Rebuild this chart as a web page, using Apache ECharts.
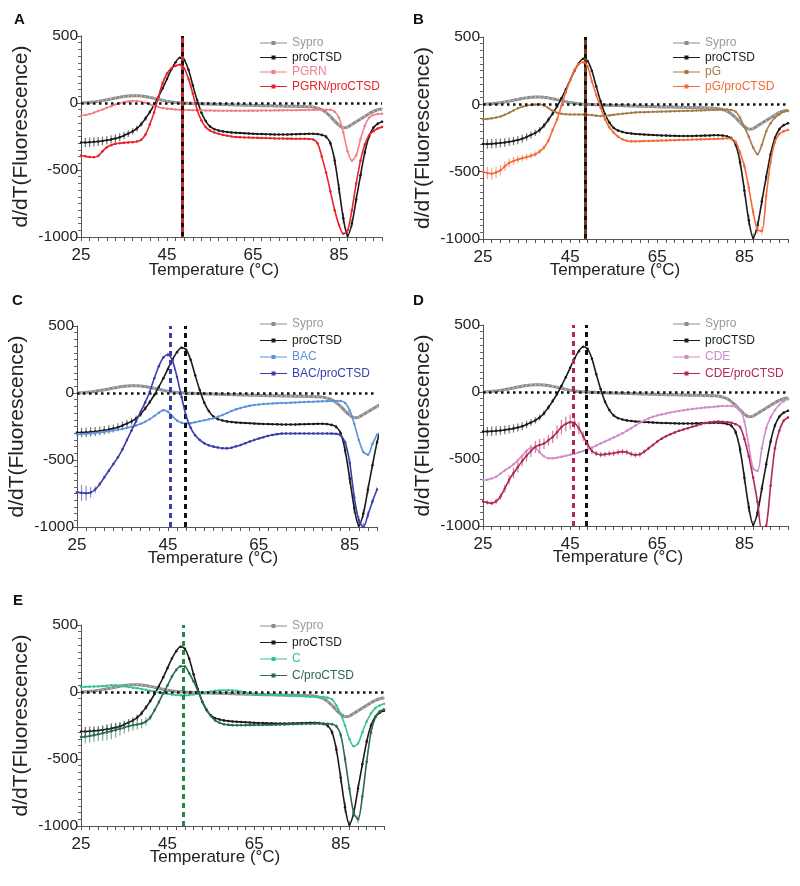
<!DOCTYPE html>
<html>
<head>
<meta charset="utf-8">
<script src="https://cdn.jsdelivr.net/npm/echarts@6/dist/echarts.min.js"></script>
<style>
html,body{margin:0;padding:0;background:#fff;}
#chart{width:800px;height:886px;}
</style>
</head>
<body>
<div id="chart"></div>
<script>
// ---------- DATA ----------
const temps = [25,26,27,28,29,30,31,32,33,34,35,36,37,38,39,40,41,42,43,44,45,46,47,48,49,50,51,52,53,54,55,56,57,58,59,60,61,62,63,64,65,66,67,68,69,70,71,72,73,74,75,76,77,78,79,80,81,82,83,84,85,86,87,88,89,90,91,92,93,94,95];

const tickLabels95 = ['25','27','29','31','33','35','37','39','41','43','45','47','49','51','53','55','57','59','61','63','65','67','69','71','73','75','77','79','81','83','85','87','89','91','93','95'];
const tickLabels91 = ['25','27','29','31','33','35','37','39','41','43','45','47','49','51','53','55','57','59','61','63','65','67','69','71','73','75','77','79','81','83','85','87','89','91'];

const SYPRO = [0,2,5,8,12,18,24,30,37,43, 48,52,55,55,53,48,42,35,27,20, 13,8,4,1,0,-2,-3,-4,-6,-7, -8,-9,-10,-11,-12,-13,-14,-15,-16,-17, -18,-19,-20,-20,-21,-22,-22,-23,-24,-24, -25,-26,-27,-28,-30,-38,-50,-72,-100,-135, -165,-185,-180,-160,-140,-120,-100,-80,-62,-50, -45];
const PROCTSD = [-295,-295,-293,-290,-287,-283,-278,-272,-265,-255, -242,-228,-212,-190,-158,-115,-68,-15,45,110, 180,250,305,338,322,248,132,22,-72,-135, -175,-195,-205,-212,-216,-220,-222,-224,-226,-228, -230,-231,-232,-233,-234,-235,-235,-235,-235,-234, -233,-232,-231,-230,-230,-232,-238,-252,-300,-430, -640,-860,-990,-900,-720,-540,-370,-250,-185,-155, -140];
const PGRN = [-95,-90,-82,-72,-60,-48,-36,-24,-12,-2, 6,12,15,15,10,2,-10,-20,-30,-38, -42,-45,-48,-50,-52,-53,-54,-55,-55,-56, -56,-57,-57,-58,-58,-58,-58,-58,-58,-57, -57,-57,-56,-56,-56,-55,-55,-55,-54,-54, -54,-53,-53,-52,-52,-51,-50,-50,-50,-65, -110,-220,-360,-430,-390,-270,-170,-110,-90,-82, -80];
const PGRN_CTSD = [-392,-398,-403,-405,-395,-360,-330,-315,-305,-300, -297,-294,-292,-288,-275,-235,-160,-70,45,150, 220,258,278,285,258,180,70,-50,-130,-180, -205,-220,-230,-238,-245,-250,-253,-255,-257,-258, -259,-260,-261,-262,-263,-264,-265,-265,-266,-266, -267,-267,-267,-268,-272,-300,-400,-520,-660,-800, -910,-975,-950,-800,-600,-430,-310,-240,-210,-190, -180];
const PG = [-110,-108,-104,-98,-90,-78,-62,-45,-30,-18, -10,-5,-2,0,-8,-28,-48,-62,-70,-74, -75,-75,-75,-75,-77,-80,-84,-87,-86,-82, -78,-74,-70,-66,-63,-60,-59,-58,-57,-56, -55,-54,-53,-52,-51,-50,-49,-48,-47,-46, -45,-44,-43,-42,-41,-40,-38,-42,-55,-100, -170,-240,-320,-370,-300,-200,-140,-100,-75,-55, -50];
const PG_CTSD = [-500,-510,-515,-505,-490,-460,-435,-420,-410,-400, -392,-382,-370,-350,-320,-270,-190,-110,-10,90, 180,255,300,312,280,170,70,-25,-110,-170, -210,-240,-260,-270,-275,-275,-274,-273,-272,-271, -270,-269,-268,-267,-266,-265,-264,-263,-262,-261, -260,-259,-258,-257,-256,-255,-252,-255,-280,-360, -460,-620,-800,-930,-940,-680,-430,-280,-220,-200, -190];
const BAC = [-310,-308,-305,-302,-298,-294,-290,-285,-280,-274, -268,-260,-252,-242,-230,-215,-195,-172,-148,-128, -140,-175,-205,-222,-228,-225,-218,-210,-203,-196, -188,-178,-165,-150,-135,-122,-112,-103,-96,-90, -86,-83,-80,-78,-76,-75,-74,-72,-71,-69, -68,-66,-65,-63,-62,-61,-60,-59,-60,-75, -130,-230,-350,-440,-460,-380,-310,null,null,null, null];
const BAC_CTSD = [-740,-745,-748,-742,-720,-680,-630,-580,-530,-480, -420,-350,-280,-210,-140,-70,10,110,200,265, 285,240,120,-30,-170,-260,-315,-350,-375,-390, -400,-407,-412,-413,-408,-398,-388,-375,-362,-350, -340,-330,-320,-313,-307,-303,-302,-302,-302,-302, -302,-302,-302,-302,-302,-302,-303,-305,-315,-370, -520,-780,-950,-1000,-910,-810,-720,null,null,null, null];
const CDE = [-657,-655,-645,-632,-610,-585,-565,-540,-510,-475, -440,-415,-420,-450,-480,-495,-495,-490,-484,-476, -468,-460,-450,-440,-428,-415,-400,-385,-370,-355, -340,-325,-308,-290,-270,-250,-230,-212,-198,-185, -175,-167,-160,-153,-147,-141,-136,-131,-127,-123, -119,-116,-113,-110,-107,-105,-104,-105,-110,-130, -220,-400,-570,-590,-420,-270,-190,-135,-95,-70, -55];
const CDE_CTSD = [-818,-825,-830,-815,-781,-720,-655,-605,-560,-515, -475,-440,-410,-395,-385,-360,-335,-300,-262,-238, -225,-230,-270,-330,-390,-440,-460,-468,-465,-460, -457,-450,-445,-450,-462,-470,-465,-445,-420,-395, -370,-348,-330,-315,-302,-290,-280,-270,-260,-250, -240,-232,-226,-222,-221,-222,-225,-230,-240,-262, -350,-480,-640,-820,-1030,-1000,-700,-420,-290,-215, -190];
const C = [38,39,40,41,42,44,47,50,50,47, 42,37,32,28,23,17,10,4,-3,-9, -14,-18,-22,-25,-25,-23,-19,-14,-8,-2, 4,9,12,13,13,12,9,4,-2,-8, -13,-16,-19,-21,-22,-23,-24,-25,-26,-28, -30,-32,-33,-35,-36,-37,-38,-42,-55,-100, -165,-250,-350,-405,-385,-300,-220,-160,-120,-100, -87];
const C_CTSD = [-336,-333,-328,-322,-315,-308,-300,-292,-284,-275, -265,-255,-248,-242,-236,-220,-190,-135,-75,-10, 50,115,165,192,190,140,80,10,-70,-130, -180,-212,-230,-240,-245,-248,-248,-248,-248,-247, -247,-246,-246,-245,-245,-244,-243,-242,-241,-240, -239,-238,-237,-237,-236,-236,-236,-237,-240,-255, -320,-500,-720,-900,-950,-780,-520,-300,-190,-145, -130];

// error (± SD)
const PROCTSD_ERR = [35,35,35,35,34,33,32,31,30,30, 28,26,24,22,20,18,15,12,10,10, 8,8,8,8,8,8,8,8,8,8, 6,6,6,6,6,6,6,6,6,6, 6,6,6,6,6,6,6,6,6,6, 6,6,6,6,6,8,10,15,20,30, 40,40,30,30,30,25,20,15,12,10, 10];
const PG_CTSD_ERR = [45,45,45,42,40,35,32,30,28,26, 24,22,20,18,15,12,10,10,10,10, 10,10,10,10,10,8,8,8,8,8, 6,6,6,6,6,6,6,6,6,6, 6,6,6,6,6,6,6,6,6,6, 6,6,6,6,6,6,8,10,15,20, 25,30,30,30,30,25,20,15,10,10, 10];
const BAC_CTSD_ERR = [60,60,55,40,25,15,12,10,10,10, 10,10,10,10,10,10,10,10,10,10, 15,12,10,10,10,10,8,8,8,8, 8,8,8,8,8,8,8,8,8,8, 6,6,6,6,6,6,6,6,6,6, 6,6,6,6,6,6,6,6,10,15, 25,30,30,30,25,20,20,0,0,0, 0];
const CDE_CTSD_ERR = [15,15,15,20,25,30,35,40,40,40, 45,45,45,45,40,40,45,50,55,55, 55,50,45,35,30,25,20,20,20,20, 20,20,20,20,20,20,18,15,12,10, 8,8,8,8,8,8,8,8,8,8, 6,6,6,6,6,6,6,6,6,6, 10,10,10,10,10,10,10,10,10,10, 10];
const C_CTSD_ERR = [50,50,50,50,50,55,60,60,55,50, 45,42,40,38,35,30,20,15,12,10, 10,10,10,10,10,10,10,10,10,10, 8,8,8,8,8,8,8,8,8,8, 6,6,6,6,6,6,6,6,6,6, 6,6,6,6,6,6,6,8,10,15, 20,25,30,30,30,25,20,15,10,10, 10];

// Tm lines (°C)
const TM_A = [48.5, 48.5];
const TM_B = [48.5, 48.5];
const TM_C = [45.5, 48.8];
const TM_D = [45.8, 48.6];
const TM_E = [48.6];

// ---------- STYLE / LAYOUT ----------
const FONT = 'Liberation Sans, Arial, Helvetica, sans-serif';
const COL = {
  sypro:'#8c8c8c', ctsd:'#1a1a1a',
  pgrn:'#f27f89', pgrnC:'#e8232b',
  pg:'#a77a45', pgC:'#f26b3a',
  bac:'#5e91dc', bacC:'#3a3ea8',
  cde:'#d28cc9', cdeC:'#b0285a',
  c:'#36c48b', cC:'#2b6b4b'
};
const LEG_ICON = 'path://M0,1.5L27,1.5L27,2.5L0,2.5Z M11.5,0L15.5,0L15.5,4L11.5,4Z';

const panels = [
  {letter:'A', lx:14, ly:12, grid:{left:81,top:36,width:301,height:201}, xmax:95, ticks:tickLabels95,
   xt:[214,270], legend:{left:260,top:37,gap:2.5},
   series:[['Sypro',SYPRO,COL.sypro],['proCTSD',PROCTSD,COL.ctsd,PROCTSD_ERR],['PGRN',PGRN,COL.pgrn],['PGRN/proCTSD',PGRN_CTSD,COL.pgrnC]],
   vlines:[[TM_A[0],'#111',0],[TM_A[1],'#c8282e',4]]},
  {letter:'B', lx:413, ly:12, grid:{left:483,top:37,width:305,height:202}, xmax:95, ticks:tickLabels95,
   xt:[615,270], legend:{left:673,top:37,gap:2.5},
   series:[['Sypro',SYPRO,COL.sypro],['proCTSD',PROCTSD,COL.ctsd,PROCTSD_ERR],['pG',PG,COL.pg],['pG/proCTSD',PG_CTSD,COL.pgC,PG_CTSD_ERR]],
   vlines:[[TM_B[0],'#111',0],[TM_B[1],'#7a3b1c',4]]},
  {letter:'C', lx:12, ly:293, grid:{left:77,top:326,width:300,height:201}, xmax:91, ticks:tickLabels91,
   xt:[213,558], legend:{left:260,top:318,gap:4.5},
   series:[['Sypro',SYPRO,COL.sypro],['proCTSD',PROCTSD,COL.ctsd,PROCTSD_ERR],['BAC',BAC,COL.bac],['BAC/proCTSD',BAC_CTSD,COL.bacC,BAC_CTSD_ERR]],
   vlines:[[TM_C[0],COL.bacC,0],[TM_C[1],'#111',0]]},
  {letter:'D', lx:413, ly:293, grid:{left:483,top:325,width:305,height:201}, xmax:95, ticks:tickLabels95,
   xt:[618,557], legend:{left:673,top:318,gap:4.5},
   series:[['Sypro',SYPRO,COL.sypro],['proCTSD',PROCTSD,COL.ctsd,PROCTSD_ERR],['CDE',CDE,COL.cde],['CDE/proCTSD',CDE_CTSD,COL.cdeC,CDE_CTSD_ERR]],
   vlines:[[TM_D[0],COL.cdeC,0],[TM_D[1],'#111',0]]},
  {letter:'E', lx:13, ly:593, grid:{left:81,top:625,width:303,height:201}, xmax:95, ticks:tickLabels95,
   xt:[215,857], legend:{left:260,top:620,gap:4.5},
   series:[['Sypro',SYPRO,COL.sypro],['proCTSD',PROCTSD,COL.ctsd,PROCTSD_ERR],['C',C,COL.c],['C/proCTSD',C_CTSD,COL.cC,C_CTSD_ERR]],
   vlines:[[TM_E[0],'#23884f',0]]}
];

const option = {animation:false, textStyle:{fontFamily:FONT}, grid:[], xAxis:[], yAxis:[], series:[], legend:[], graphic:[]};

panels.forEach((p, i) => {
  option.grid.push(Object.assign({containLabel:false}, p.grid));
  const vx = option.xAxis.length;
  option.xAxis.push({type:'value', gridIndex:i, min:25, max:p.xmax, show:false});
  option.xAxis.push({type:'category', gridIndex:i, data:p.ticks, boundaryGap:false, position:'bottom',
    axisLine:{show:true, lineStyle:{color:'#555', width:1}},
    axisTick:{show:true, interval:0, length:4, lineStyle:{color:'#555'}},
    axisLabel:{interval:9, fontSize:17, color:'#222', margin:10, fontFamily:FONT},
    splitLine:{show:false}});
  option.yAxis.push({type:'value', gridIndex:i, min:-1000, max:500, interval:500,
    name:'d/dT(Fluorescence)', nameLocation:'middle', nameRotate:90, nameGap:49,
    nameTextStyle:{fontSize:21, color:'#222', fontFamily:FONT},
    axisLine:{show:true, lineStyle:{color:'#555', width:1}},
    axisTick:{show:true, length:5, lineStyle:{color:'#555'}},
    minorTick:{show:true, splitNumber:10, length:3, lineStyle:{color:'#666'}},
    axisLabel:{fontSize:15.5, color:'#222', margin:3, fontFamily:FONT, formatter: v => String(v)},
    splitLine:{show:false}});

  p.series.forEach((s, k) => {
    const isSy = s[0] === 'Sypro';
    if (s[3]) {
      const err = s[3];
      option.series.push({
        type:'custom', xAxisIndex:vx, yAxisIndex:i, silent:true, z:1 + k,
        data: temps.map((t, j) => [t, s[1][j], err[j]]).filter(d => d[1] !== null && d[2] > 0),
        renderItem: (params, api) => {
          const t = api.value(0), v = api.value(1), e = api.value(2);
          const a = api.coord([t, v - e]), b = api.coord([t, v + e]);
          return {type:'line', shape:{x1:a[0], y1:a[1], x2:b[0], y2:b[1]},
            style:{stroke:s[2], lineWidth:1.2, opacity:0.6}};
        },
        clip:true
      });
    }
    option.series.push({
      name:s[0], type:'line', xAxisIndex:vx, yAxisIndex:i,
      data: temps.map((t, j) => [t, s[1][j]]),
      smooth:0.3, connectNulls:false,
      symbol:'circle', symbolSize: isSy ? 2 : 2.5, showSymbol:true,
      lineStyle:{color:s[2], width: isSy ? 3 : 1.6},
      itemStyle:{color: isSy ? '#b5b5b5' : s[2]},
      z: 2 + k
    });
  });

  const ml = [{yAxis:0, lineStyle:{color:'#111', type:[2.5,3.5], width:2.7}}];
  p.vlines.forEach(v => {
    ml.push({xAxis:v[0], lineStyle:{color:v[1], type:[5,4], dashOffset:v[2], width:3}});
  });
  option.series.push({type:'line', xAxisIndex:vx, yAxisIndex:i, data:[], silent:true, z:10,
    markLine:{symbol:['none','none'], silent:true, label:{show:false}, animation:false, data:ml}});

  option.legend.push({orient:'vertical', left:p.legend.left, top:p.legend.top, padding:0,
    itemWidth:27, itemHeight:10, itemGap:p.legend.gap, selectedMode:false,
    textStyle:{fontSize:12, fontFamily:FONT},
    data: p.series.map(s => ({name:s[0], icon:LEG_ICON,
      itemStyle:{color: s[2]},
      textStyle:{color: s[0]==='Sypro' ? '#9a9a9a' : s[2]}}))});

  option.graphic.push({type:'text', left:p.lx, top:p.ly, style:{text:p.letter, font:'bold 15px '+FONT, fill:'#111'}});
  option.graphic.push({type:'text', x:p.xt[0], y:p.xt[1], style:{text:'Temperature (°C)', font:'17px '+FONT, fill:'#222', textAlign:'center', textVerticalAlign:'middle'}});
});

const chart = echarts.init(document.getElementById('chart'), null, {renderer:'canvas'});
chart.setOption(option);
</script>
</body>
</html>
